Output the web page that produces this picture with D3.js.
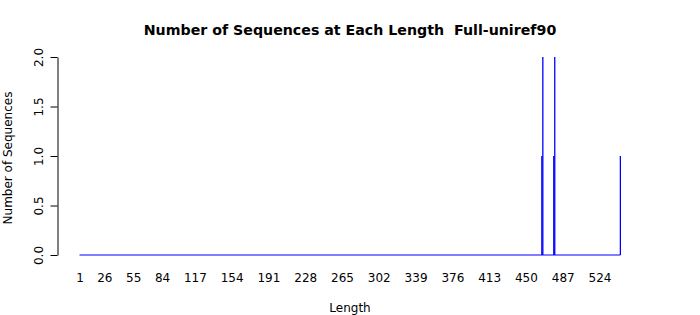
<!DOCTYPE html>
<html>
<head>
<meta charset="utf-8">
<script src="https://cdn.jsdelivr.net/npm/d3@7"></script>
<style>
  body { margin: 0; background: #fff; }
  text { font-family: "DejaVu Sans", sans-serif; fill: #000; }
</style>
</head>
<body>
<div id="vis"></div>
<script>
// sequence lengths that have at least one sequence, and how many
var spikeLengths = [466, 467, 478, 479, 545];
var spikeCounts  = [1, 2, 1, 2, 1];
var lengthRange  = [1, 545];
var xTickLabels  = [1, 26, 55, 84, 117, 154, 191, 228, 265, 302, 339, 376, 413, 450, 487, 524];
var yTickLabels  = [0, 0.5, 1, 1.5, 2];

var width = 700, height = 315;

var svg = d3.select("#vis").append("svg")
    .attr("width", width)
    .attr("height", height);

svg.append("rect").attr("width", width).attr("height", height).attr("fill", "#fff");

var x = d3.scaleLinear()
    .domain([1, 524])
    .range([79.5, 599.5]);

var y = d3.scaleLinear()
    .domain([0, 2])
    .range([255, 57]);

// title
svg.append("text")
    .attr("x", 350)
    .attr("y", 34.5)
    .attr("text-anchor", "middle")
    .style("font-size", "14.2px")
    .style("font-weight", "bold")
    .style("white-space", "pre")
    .text("Number of Sequences at Each Length  Full-uniref90");

// baseline of zero counts
svg.append("line")
    .attr("x1", x(lengthRange[0]))
    .attr("x2", x(lengthRange[1]))
    .attr("y1", y(0))
    .attr("y2", y(0))
    .attr("stroke", "#0000ff")
    .attr("stroke-width", 1.2);

// one vertical line per length
var spikes = spikeLengths.map(function(d, i) { return {len: d, count: spikeCounts[i]}; });

svg.selectAll(".spike")
  .data(spikes)
  .enter().append("line")
    .attr("class", "spike")
    .attr("x1", function(d) { return x(d.len); })
    .attr("x2", function(d) { return x(d.len); })
    .attr("y1", y(0))
    .attr("y2", function(d) { return y(d.count); })
    .attr("stroke", "#0000ff")
    .attr("stroke-width", 1.3);

// x axis: labels only
var xAxis = svg.append("g")
    .attr("transform", "translate(0," + y(0) + ")")
    .call(d3.axisBottom(x).tickValues(xTickLabels).tickSize(0).tickPadding(18).tickFormat(d3.format("d")));
xAxis.select(".domain").remove();
xAxis.selectAll("text").style("font-size", "12px").style("font-family", "DejaVu Sans");

// y axis, R style with rotated labels
var yAxis = svg.append("g")
    .attr("transform", "translate(57.5,0)")
    .call(d3.axisLeft(y).tickValues(yTickLabels).tickSize(7).tickSizeOuter(0).tickFormat(d3.format(".1f")));
yAxis.select(".domain").attr("stroke", "#000");
yAxis.selectAll(".tick line").attr("stroke", "#000");
yAxis.selectAll("text")
    .attr("transform", "rotate(-90)")
    .attr("x", 0)
    .attr("y", -15)
    .attr("dy", 0)
    .attr("text-anchor", "middle")
    .style("font-size", "12px")
    .style("font-family", "DejaVu Sans");

// axis titles
svg.append("text")
    .attr("x", 350)
    .attr("y", 311.5)
    .attr("text-anchor", "middle")
    .style("font-size", "12px")
    .text("Length");

svg.append("text")
    .attr("transform", "translate(12,158) rotate(-90)")
    .attr("text-anchor", "middle")
    .style("font-size", "12px")
    .text("Number of Sequences");
</script>
</body>
</html>
